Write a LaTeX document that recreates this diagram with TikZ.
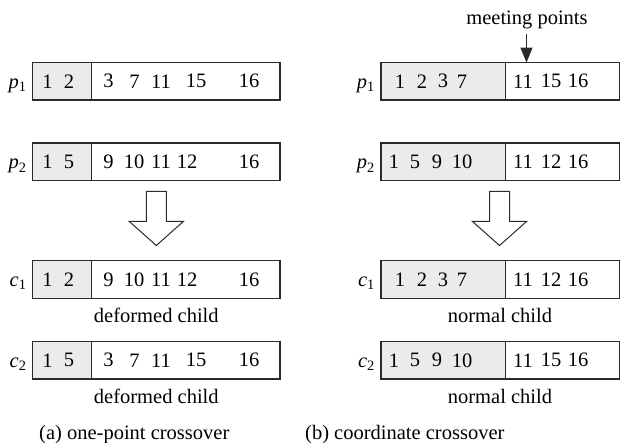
\documentclass[tikz,border=0pt]{standalone}
\usepackage{fontspec}
\setmainfont{Liberation Serif}
\usetikzlibrary{arrows.meta}

\definecolor{cellgray}{HTML}{EBEBEB}
\definecolor{edge}{HTML}{2A2A2A}

\tikzset{
  cell/.style={draw=edge, line width=1.2pt, minimum height=37.5pt, inner sep=0pt, outer sep=0pt, anchor=west},
  headcell/.style={cell, fill=cellgray},
  tailcell/.style={cell, fill=white},
  txt/.style={font=\fontsize{20.5}{23}\selectfont, inner sep=0pt},
  gene/.style={txt},
  tag/.style={txt, anchor=base east},
  note/.style={txt, anchor=base},
  caption/.style={txt, anchor=base west},
  bigarrow/.style={draw=edge, line width=1pt, fill=white, line join=miter},
}

% #1 name, #2 y, #3 left x, #4 split x, #5 right x, #6 tag, #7 gray genes (x/n), #8 white genes (x/n)
\newcommand{\chromosome}[8]{%
  \pgfmathsetmacro{\wa}{#4-#3}%
  \pgfmathsetmacro{\wb}{#5-#4}%
  \node[headcell, minimum width=\wa pt] (#1h) at (#3,#2) {};
  \node[tailcell, minimum width=\wb pt] (#1t) at (#4,#2) {};
  \node[tag] (#1l) at ([xshift=-6pt,yshift=-7.2pt]#1h.west) {#6};
  \foreach \gx/\gn [count=\gi] in {#7} {\node[gene] (#1g\gi) at (\gx,#2) {\gn};}
  \foreach \gx/\gn [count=\gi] in {#8} {\node[gene] (#1w\gi) at (\gx,#2) {\gn};}
}

% hollow block arrow pointing down; #1 centre x, #2 top y
\newcommand{\downblock}[2]{%
  \draw[bigarrow] (#1-10,#2) -- (#1+10,#2) -- (#1+10,#2+30) -- (#1+27,#2+30)
    -- (#1,#2+54) -- (#1-27,#2+30) -- (#1-10,#2+30) -- cycle;
}

\newcommand{\p}[1]{{\itshape p}\textsubscript{#1}}
\newcommand{\cc}[1]{{\itshape c}\textsubscript{#1}}

\begin{document}
\begin{tikzpicture}[x=1pt,y=-1pt]
  \useasboundingbox (0,0) rectangle (623,443);

  % ---- (a) one-point crossover ----
  \chromosome{ap}{81.3}{32.7}{91.7}{280}{\p1}
    {47.5/1,69/2}{108.5/3,134.5/7,161/11,196/15,249/16}
  \chromosome{aq}{161.8}{32.7}{91.7}{280}{\p2}
    {47.5/1,69/5}{108.5/9,134/10,161/11,187/12,249/16}
  \downblock{156.3}{191.5}
  \chromosome{ac}{279.5}{32.7}{91.7}{280}{\cc1}
    {47.5/1,69/2}{108.5/9,134/10,161/11,187/12,249/16}
  \node[note] (acn) at (156.3,322) {deformed child};
  \chromosome{ad}{360.3}{32.7}{91.7}{280}{\cc2}
    {47.5/1,69/5}{108.5/3,134.5/7,161/11,196/15,249/16}
  \node[note] (adn) at (156.3,403) {deformed child};
  \node[caption] (capa) at (39,439.5) {(a) one-point crossover};

  % ---- (b) coordinate crossover ----
  \chromosome{bp}{81.3}{381}{505.5}{619.3}{\p1}
    {400/1,422/2,443/3,462/7}{523/11,551/15,578/16}
  \chromosome{bq}{161.8}{381}{505.5}{619.3}{\p2}
    {394/1,415/5,437/9,462/10}{523/11,551/12,578/16}
  \downblock{499.5}{191.5}
  \chromosome{bc}{279.5}{381}{505.5}{619.3}{\cc1}
    {400/1,422/2,443/3,462/7}{523/11,551/12,578/16}
  \node[note] (bcn) at (500,322) {normal child};
  \chromosome{bd}{360.3}{381}{505.5}{619.3}{\cc2}
    {394/1,415/5,437/9,462/10}{523/11,551/15,578/16}
  \node[note] (bdn) at (500,403) {normal child};
  \node[caption] (capb) at (305,439.5) {(b) coordinate crossover};

  % meeting point marker
  \node[note] (meet) at (527,25) {meeting points};
  \coordinate (meetst) at (526.5,34);
  \coordinate (meetpt) at (meetst |- bpt.north);
  \draw[edge, line width=1.3pt, -{Triangle[length=15pt,width=12pt]}]
    (meetst) -- (meetpt);
\end{tikzpicture}
\end{document}
